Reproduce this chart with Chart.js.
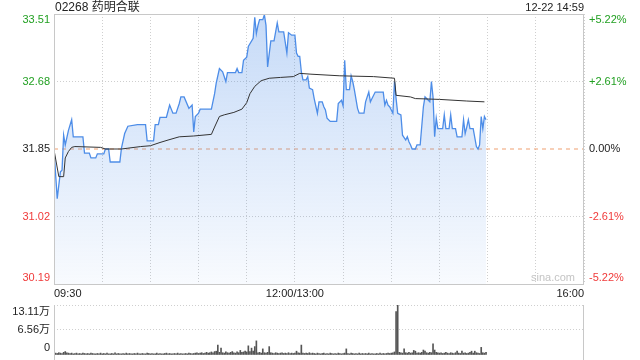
<!DOCTYPE html>
<html>
<head>
<meta charset="utf-8">
<script src="https://cdn.jsdelivr.net/npm/chart.js@4.4.0/dist/chart.umd.min.js"></script>
<style>
body { margin: 0; background: #fff; font-family: "Liberation Sans", Arial, "Noto Sans CJK SC", sans-serif; }
#wrap { position: relative; width: 640px; height: 360px; overflow: hidden; }
#title { position: absolute; left: 55px; top: 0; font-size: 12px; line-height: 15px; color: #222; }
#stamp { position: absolute; right: 56px; top: 0; font-size: 11px; line-height: 15px; color: #222; }
#main { position: absolute; left: 0; top: 0; }
#vol { position: absolute; left: 0; top: 300px; }
</style>
</head>
<body>
<div id="wrap">
  <canvas id="main" width="640" height="300" style="width:640px;height:300px"></canvas>
  <canvas id="vol" width="640" height="60" style="width:640px;height:60px"></canvas>
  <div id="title">02268 药明合联</div>
  <div id="stamp">12-22 14:59</div>
</div>
<script>
var prevClose = 31.85;
var priceTicks = [30.19, 31.02, 31.85, 32.68, 33.51];
var pctLabels = ['-5.22%', '-2.61%', '0.00%', '+2.61%', '+5.22%'];
var timeTickMinutes = [0, 30, 60, 90, 120, 150, 180, 210, 240, 270, 300, 330];
var timeTickLabels = ['09:30', '', '', '', '', '12:00/13:00', '', '', '', '', '', '16:00'];
var volTicks = [0, 6.56, 13.11];
var volLabels = ['0', '6.56万', '13.11万'];

// minutes after 09:30 (lunch break removed) where the price line turns
var priceMin = [0,2,4,5,6,7,9,11,12,18,
  19,22,23,26,27,31,32,34,35,41,
  42,44,46,52,57,58,62,63,65,66,
  70,72,74,76,78,79,81,84,86,87,
  88,90,91,98,100,101,103,105,107,108,
  113,114,115,117,118,120,121,124,125,126,
  127,128,130,131,132,133,135,137,139,140,
  143,145,146,148,150,151,152,153,154,155,
  157,158,159,161,162,164,165,167,168,169,
  170,172,176,177,179,180,181,182,184,185,
  186,187,189,190,193,194,196,197,198,200,
  205,206,207,208,209,211,212,213,214,216,
  217,219,220,221,222,223,225,226,228,230,
  231,232,234,235,236,237,238,239,242,243,
  244,246,247,248,250,251,254,255,256,257,
  258,259,261,263,264,265,266,267,268,269];
var priceVal = [31.84,31.24,31.57,31.59,32.02,31.90,32.08,32.21,32.00,32.00,
  31.80,31.80,31.74,31.74,31.79,31.79,31.85,31.85,31.69,31.69,
  31.86,32.04,32.13,32.15,32.15,31.95,31.95,32.15,32.15,32.24,
  32.24,32.39,32.29,32.29,32.41,32.49,32.49,32.35,32.39,32.06,
  32.25,32.29,32.34,32.34,32.53,32.66,32.84,32.80,32.68,32.79,
  32.79,32.84,32.79,32.79,32.94,32.98,33.11,33.21,33.47,33.27,
  33.37,33.44,33.44,33.50,33.37,32.86,33.18,33.18,33.40,33.29,
  33.29,33.03,33.28,33.25,33.25,33.03,32.99,32.99,32.80,32.70,
  32.70,32.74,32.60,32.58,32.47,32.29,32.43,32.43,32.37,32.33,
  32.23,32.19,32.19,32.41,32.45,32.38,32.94,32.58,32.58,32.75,
  32.68,32.58,32.35,32.29,32.29,32.43,32.55,32.43,32.47,32.55,
  32.55,32.39,32.45,32.39,32.37,32.29,32.68,32.47,32.29,32.27,
  32.02,31.96,32.00,31.94,31.90,31.85,31.85,31.90,31.90,32.37,
  32.49,32.47,32.43,32.68,32.49,32.00,32.23,32.10,32.10,32.27,
  32.10,32.10,32.27,32.10,32.10,32.00,32.00,32.21,32.04,32.12,
  32.21,32.10,32.10,31.88,31.85,31.90,32.25,32.10,32.25,32.21];

var avgMin = [0,3,6,7,9,11,13,29,32,42,
  46,54,60,66,71,78,87,98,100,103,
  106,112,117,120,122,125,129,134,141,149,
  153,160,178,199,212,213,222,225,240,257,
  268];
var avgVal = [31.84,31.51,31.51,31.74,31.82,31.87,31.88,31.87,31.85,31.85,
  31.86,31.88,31.89,31.93,31.96,32.00,32.01,32.03,32.12,32.25,
  32.27,32.30,32.34,32.42,32.53,32.62,32.69,32.72,32.73,32.74,
  32.78,32.77,32.75,32.74,32.72,32.51,32.49,32.47,32.46,32.44,
  32.43];

// volume per minute, in 万 shares
var volume = [
  0.8,0.5,0.4,0.6,0.5,0.4,0.7,0.9,0.6,0.5,0.4,0.5,0.3,0.4,0.5,0.3,0.4,0.3,0.5,0.4,0.3,0.4,0.3,0.5,0.4,0.3,0.3,0.4,0.3,0.5,
  0.3,0.4,0.3,0.5,0.3,0.3,0.4,0.3,0.6,0.3,0.4,0.3,0.3,0.4,0.3,0.5,0.3,0.4,0.3,0.3,0.4,0.3,0.5,0.3,0.3,0.4,0.3,0.3,0.5,0.4,
  0.3,0.4,0.3,0.3,0.5,0.3,0.4,0.3,0.3,0.4,0.5,0.3,0.4,0.3,0.3,0.4,0.3,0.5,0.3,0.4,0.3,0.3,0.4,0.3,0.5,0.4,0.3,0.4,0.5,0.6,
  0.4,0.5,0.6,0.4,0.5,0.7,0.5,0.6,0.8,0.6,0.9,1.0,2.6,0.7,1.8,0.6,0.5,0.8,0.6,0.5,0.7,0.9,0.6,0.5,0.8,0.6,1.2,0.7,0.8,1.0,
  0.8,2.4,0.9,1.8,1.0,2.2,3.7,0.6,0.7,0.5,1.6,0.6,0.5,0.7,2.2,0.6,0.5,0.4,0.6,0.5,0.4,0.5,0.6,0.4,0.5,0.4,0.6,0.4,0.5,0.4,
  0.5,1.0,0.6,0.5,2.6,0.5,0.4,0.5,0.4,0.6,0.4,0.5,0.4,0.3,0.5,0.4,0.3,0.4,0.5,0.3,0.4,0.3,0.5,0.4,0.3,0.4,0.3,0.5,0.4,0.3,
  0.4,0.5,1.6,0.4,0.3,0.5,0.4,0.3,0.4,0.3,0.5,0.3,0.4,0.3,0.4,0.3,0.5,0.3,0.4,0.3,0.3,0.4,0.3,0.5,0.3,0.4,0.3,0.4,0.5,0.4,
  0.5,0.6,0.8,11.4,13.1,0.7,0.6,0.5,1.6,0.6,0.5,0.7,0.5,0.6,1.2,1.0,0.5,0.6,0.5,0.7,1.3,1.0,0.6,0.5,0.7,0.6,2.9,1.3,0.7,0.6,
  0.5,0.6,0.4,0.5,0.7,0.5,0.4,0.6,0.5,0.4,0.6,1.0,0.5,0.4,1.0,0.5,0.6,0.4,0.5,0.7,1.0,0.5,1.0,0.6,0.5,0.4,2.0,0.6,0.5,0.7
];

var upColor = '#22a022';
var downColor = '#f03a3a';
var gridColor = '#cfcfcf';
var fontFamily = '"Liberation Sans", Arial, "Noto Sans CJK SC", sans-serif';
Chart.defaults.font.family = fontFamily;

function setTicks(list) {
  return function (scale) {
    scale.ticks = list.map(function (v) { return { value: v }; });
  };
}

/* main price chart frame + axis labels */
var mainLabels = {
  id: 'mainLabels',
  afterDraw: function (chart) {
    var ctx = chart.ctx;
    var a = chart.chartArea;
    var ys = chart.scales.y;
    ctx.save();
    ctx.strokeStyle = '#c8c8c8';
    ctx.lineWidth = 1;
    ctx.strokeRect(Math.round(a.left) + 0.5, Math.round(a.top) + 0.5, Math.round(a.right - a.left) - 1, Math.round(a.bottom - a.top));
    ctx.font = '11px ' + fontFamily;
    ctx.textBaseline = 'middle';
    priceTicks.forEach(function (v, i) {
      var y = ys.getPixelForValue(v);
      if (i === priceTicks.length - 1) y += 6;
      if (i === 0) y -= 6;
      var col = v > prevClose ? upColor : (v < prevClose ? downColor : '#222');
      ctx.fillStyle = col;
      ctx.textAlign = 'right';
      ctx.fillText(v.toFixed(2), a.left - 4, y);
      ctx.textAlign = 'left';
      ctx.fillText(pctLabels[i], a.right + 5, y);
    });
    ctx.fillStyle = '#c4c4c4';
    ctx.textAlign = 'center';
    ctx.fillText('sina.com', a.right - 31, a.bottom - 6);
    ctx.restore();
  }
};

new Chart(document.getElementById('main'), {
  type: 'line',
  data: {
    datasets: [{
      label: '均价',
      data: avgMin.map(function (m, i) { return { x: m, y: avgVal[i] }; }),
      borderColor: '#333333',
      borderWidth: 1,
      pointRadius: 0,
      tension: 0,
      fill: false
    }, {
      label: '价格',
      data: priceMin.map(function (m, i) { return { x: m, y: priceVal[i] }; }),
      borderColor: '#4d8de8',
      borderWidth: 1.3,
      pointRadius: 0,
      tension: 0,
      fill: 'start',
      backgroundColor: function (c) {
        var a = c.chart.chartArea;
        if (!a) return 'rgba(77,141,232,0.2)';
        var g = c.chart.ctx.createLinearGradient(0, a.top, 0, a.bottom);
        g.addColorStop(0, 'rgba(77,141,232,0.32)');
        g.addColorStop(1, 'rgba(77,141,232,0.04)');
        return g;
      }
    }, {
      label: '昨收',
      data: [{ x: 0, y: prevClose }, { x: 330, y: prevClose }],
      borderColor: '#f0a070',
      borderWidth: 1,
      borderDash: [4, 4],
      pointRadius: 0,
      fill: false
    }]
  },
  options: {
    responsive: false,
    animation: false,
    events: [],
    layout: { padding: { top: 14, left: 0, right: 56, bottom: 0 } },
    plugins: { legend: { display: false }, tooltip: { enabled: false } },
    scales: {
      x: {
        type: 'linear',
        min: 0,
        max: 330,
        afterBuildTicks: setTicks(timeTickMinutes),
        afterFit: function (s) { s.height = 16; },
        grid: { color: gridColor, drawTicks: false },
        border: { display: false, dash: [1, 2] },
        ticks: {
          autoSkip: false,
          maxRotation: 0,
          align: 'inner',
          padding: 3,
          color: '#222',
          font: { size: 11 },
          callback: function (v, i) { return timeTickLabels[i]; }
        }
      },
      y: {
        position: 'left',
        min: 30.19,
        max: 33.51,
        afterBuildTicks: setTicks(priceTicks),
        afterFit: function (s) { s.width = 54; },
        grid: {
          drawTicks: false,
          color: function (c) { return c.tick && c.tick.value === prevClose ? 'rgba(0,0,0,0)' : gridColor; }
        },
        border: { display: false, dash: [1, 2] },
        ticks: { display: false }
      }
    }
  },
  plugins: [mainLabels]
});

/* volume panel */
var volDecor = {
  id: 'volDecor',
  afterDraw: function (chart) {
    var ctx = chart.ctx;
    var a = chart.chartArea;
    var ys = chart.scales.y;
    ctx.save();
    ctx.strokeStyle = '#c8c8c8';
    ctx.lineWidth = 1;
    ctx.beginPath();
    ctx.moveTo(Math.round(a.left) + 0.5, a.top);
    ctx.lineTo(Math.round(a.left) + 0.5, chart.height);
    ctx.moveTo(Math.round(a.right) - 0.5, a.top);
    ctx.lineTo(Math.round(a.right) - 0.5, chart.height);
    ctx.stroke();
    ctx.font = '11px ' + fontFamily;
    ctx.textBaseline = 'middle';
    ctx.textAlign = 'right';
    ctx.fillStyle = '#222';
    volTicks.forEach(function (v, i) {
      var y = ys.getPixelForValue(v);
      if (i === 0) y -= 7;
      if (i === volTicks.length - 1) y += 7;
      ctx.fillText(volLabels[i], a.left - 4, y);
    });
    ctx.restore();
  }
};

new Chart(document.getElementById('vol'), {
  type: 'bar',
  data: {
    datasets: [{
      label: '成交量',
      data: volume.map(function (v, i) { return { x: i, y: v }; }),
      backgroundColor: '#555555',
      borderWidth: 0,
      barThickness: 1
    }]
  },
  options: {
    responsive: false,
    animation: false,
    events: [],
    layout: { padding: { top: 5, left: 0, right: 56, bottom: 5 } },
    plugins: { legend: { display: false }, tooltip: { enabled: false } },
    scales: {
      x: { type: 'linear', min: 0, max: 330, display: false, offset: false },
      y: {
        min: 0,
        max: 13.11,
        afterBuildTicks: setTicks(volTicks),
        afterFit: function (s) { s.width = 54; },
        grid: {
          drawTicks: false,
          color: function (c) { return c.tick && c.tick.value === 0 ? 'rgba(0,0,0,0)' : gridColor; }
        },
        border: { display: false, dash: [1, 2] },
        ticks: { display: false }
      }
    }
  },
  plugins: [volDecor]
});
</script>
</body>
</html>
